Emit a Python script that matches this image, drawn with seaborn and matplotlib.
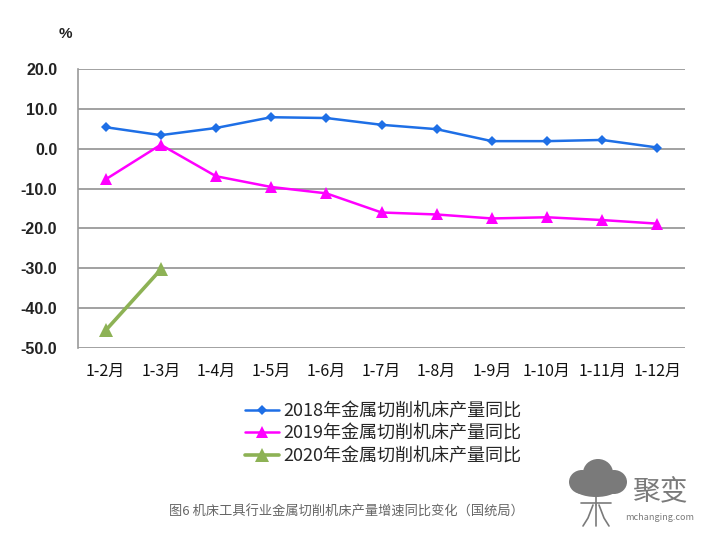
import matplotlib
matplotlib.use("Agg")
import matplotlib.pyplot as plt
import seaborn as sns
import pandas as pd
from matplotlib.patches import Ellipse
from matplotlib.lines import Line2D

categories = ["1-2月", "1-3月", "1-4月", "1-5月", "1-6月", "1-7月", "1-8月", "1-9月", "1-10月", "1-11月", "1-12月"]
values_2018 = [5.4, 3.4, 5.2, 7.9, 7.7, 6.0, 4.9, 1.9, 1.9, 2.2, 0.3]
values_2019 = [-7.7, 1.0, -6.9, -9.6, -11.2, -16.0, -16.5, -17.5, -17.2, -17.9, -18.8]
values_2020 = [-45.6, -30.3]
series_names = ["2018年金属切削机床产量同比", "2019年金属切削机床产量同比", "2020年金属切削机床产量同比"]
y_ticks = [20, 10, 0, -10, -20, -30, -40, -50]

sns.set_theme(style="white")
plt.rcParams['font.family'] = ['Noto Sans CJK SC', 'DejaVu Sans']

W, H = 713, 548
fig = plt.figure(figsize=(W/100, H/100), dpi=100)
ax = fig.add_axes([78/W, 1-348/H, 607/W, 279/H])

df18 = pd.DataFrame({"x": categories, "y": values_2018})
df19 = pd.DataFrame({"x": categories, "y": values_2019})
df20 = pd.DataFrame({"x": categories[:len(values_2020)], "y": values_2020})

sns.lineplot(data=df18, x="x", y="y", ax=ax, color="#1E6FE6", marker="D", markersize=5,
             markeredgewidth=0, linewidth=1.8, sort=False, label=series_names[0])
sns.lineplot(data=df19, x="x", y="y", ax=ax, color="#FF00FF", marker="^", markersize=8,
             markeredgewidth=0, linewidth=1.8, sort=False, label=series_names[1])
sns.lineplot(data=df20, x="x", y="y", ax=ax, color="#8DB255", marker="^", markersize=10,
             markeredgewidth=0, linewidth=2.6, sort=False, label=series_names[2])

ax.set_xlim(-0.5, len(categories) - 0.5)
ax.set_ylim(-50, 20)
ax.set_yticks(y_ticks)
ax.set_yticklabels([f"{v:.1f}" for v in y_ticks], fontsize=11.5, fontweight="bold", color="#222222",
                   family=['Liberation Sans', 'DejaVu Sans'])
ax.set_xticks(range(len(categories)))
ax.set_xticklabels(categories, fontsize=11.5, color="#111111")
ax.tick_params(axis="x", pad=11, length=0)
ax.tick_params(axis="y", pad=15, length=0)
ax.set_xlabel("")
ax.set_ylabel("")
ax.grid(axis="y", color="#9a9a9a", linewidth=1.3)
ax.set_axisbelow(True)
for s in ["top", "right"]:
    ax.spines[s].set_visible(False)
ax.spines["bottom"].set_visible(False)
ax.spines["left"].set_color("#9a9a9a")
ax.spines["left"].set_linewidth(1.2)

fig.text(65/W, 1-34/H, "%", fontsize=11, fontweight="bold", ha="center", va="center",
         family=['Liberation Sans', 'DejaVu Sans'], color="#222222")

leg = ax.legend(loc="upper left", bbox_to_anchor=(245/W, 1-402/H), bbox_transform=fig.transFigure,
                frameon=False, fontsize=13, handlelength=1.9, handletextpad=0.2,
                labelspacing=0.25, borderaxespad=0, borderpad=0)

fig.text(346/W, 1-512/H, "图6 机床工具行业金属切削机床产量增速同比变化（国统局）", fontsize=9.5,
         color="#666666", ha="center", va="center")
fig.text(660/W, 1-492/H, "聚变", fontsize=20, color="#7a7a7a", ha="center", va="center")
fig.text(660/W, 1-517/H, "mchanging.com", fontsize=6.5, color="#7a7a7a", ha="center", va="center")

# watermark tree icon (decorative)
gray = "#7a7a7a"
for cx, cy, rw, rh in [(582, 482, 26, 24), (598, 473, 30, 28), (614, 482, 26, 24), (596, 487, 46, 20)]:
    fig.add_artist(Ellipse((cx/W, 1-cy/H), rw/W, rh/H, color=gray, lw=0))
for xs, ys in [([596, 596], [495, 505]), ([593, 588, 583], [505, 518, 526]), ([599, 604, 609], [505, 518, 526]),
               ([596, 596], [505, 526]), ([581, 611], [503, 503])]:
    fig.add_artist(Line2D([x/W for x in xs], [1-y/H for y in ys], color=gray, lw=1.2))

fig.savefig("out.png", dpi=100)
